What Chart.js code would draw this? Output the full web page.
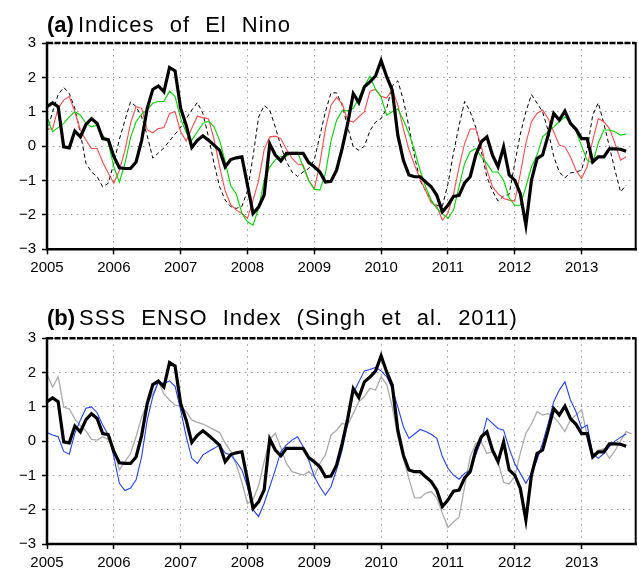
<!DOCTYPE html>
<html><head><meta charset="utf-8">
<script src="https://cdn.jsdelivr.net/npm/chart.js@4.4.1/dist/chart.umd.min.js"></script>
<style>
html,body{margin:0;padding:0;background:#fff;}
#wrap{position:relative;width:639px;height:571px;overflow:hidden;background:#fff;}
canvas{position:absolute;left:0;}
.ttl{position:absolute;left:47px;font-family:"Liberation Sans",Arial,sans-serif;font-size:22px;line-height:22px;letter-spacing:1px;word-spacing:8px;color:#000;white-space:nowrap;}
.ttl b{letter-spacing:0;}
.ttl span{margin-left:4px;}
</style></head>
<body><div id="wrap">
<canvas id="c1" width="639" height="290" style="top:0"></canvas>
<canvas id="c2" width="639" height="281" style="top:290px"></canvas>
<div class="ttl" style="top:14px"><b>(a)</b><span>Indices of El Nino</span></div>
<div class="ttl" style="top:307px"><b>(b)</b><span>SSS ENSO Index (Singh et al. 2011)</span></div>
</div>
<script>
// monthly values, Jan 2005 onward
const startYear = 2005;
const xTicks = [2005,2006,2007,2008,2009,2010,2011,2012,2013];
const yTicks = [-3,-2,-1,0,1,2,3];

const sssIndex = [1.15,1.26,1.15,-0.02,-0.05,0.44,0.27,0.63,0.8,0.66,0.22,0.19,
-0.3,-0.63,-0.65,-0.65,-0.46,0.17,1.1,1.65,1.75,1.58,2.29,2.19,
1.1,0.61,-0.04,0.17,0.3,0.17,0.03,-0.12,-0.6,-0.39,-0.34,-0.31,
-1.13,-1.96,-1.77,-1.42,0.06,-0.26,-0.43,-0.21,-0.21,-0.21,-0.21,-0.48,
-0.6,-0.75,-1.04,-1.02,-0.7,-0.07,0.66,1.53,1.27,1.73,1.87,2.04,
2.49,2.02,1.63,0.32,-0.41,-0.84,-0.89,-0.89,-1.04,-1.18,-1.43,-1.91,
-1.72,-1.46,-1.43,-1.07,-0.89,-0.26,0.13,0.27,-0.26,-0.6,-0.02,-0.84,
-0.99,-1.38,-2.3,-0.99,-0.36,-0.26,0.32,0.95,0.76,1.02,0.66,0.49,
0.22,0.22,-0.46,-0.31,-0.31,-0.08,-0.08,-0.09,-0.15];

const redIndex = [0.5,0.5,1.1,1.34,1.44,1.0,0.47,0.17,-0.07,-0.07,-0.46,-0.79,
-1.08,-0.7,-0.12,0.66,1.15,1.1,0.47,0.39,0.51,0.54,0.95,1.0,
0.42,0.15,0.52,0.87,0.83,0.8,0.2,-0.6,-1.3,-1.7,-1.86,-1.96,
-2.1,-1.57,-1.0,-0.1,0.27,0.29,0.22,-0.1,-0.35,-0.52,-0.55,-1.0,
-1.25,-0.5,0.5,1.19,1.42,1.24,0.75,0.7,0.85,1.0,1.6,1.65,
1.45,1.4,1.65,1.2,0.5,-0.1,-0.55,-0.95,-1.3,-1.65,-1.75,-2.15,
-1.95,-1.4,-0.6,0.08,0.5,0.5,0.0,-0.7,-1.18,-1.38,-1.52,-1.57,
-1.6,-0.8,0.08,0.71,0.95,1.05,0.8,0.42,0.03,-0.02,-0.31,-0.7,
-0.94,-0.6,0.17,0.8,0.71,0.51,0.08,-0.41,-0.31];

const greenIndex = [0.85,0.42,0.54,0.66,0.85,1.0,0.9,0.66,0.56,0.61,0.32,0.1,
-0.6,-1.05,-0.5,0.25,0.71,0.93,1.05,1.25,1.3,1.3,1.6,1.45,
0.8,0.4,0.17,0.42,0.66,0.73,0.56,0.17,-0.45,-1.15,-1.4,-1.95,
-2.2,-2.3,-1.8,-1.0,-0.6,-0.4,-0.3,-0.3,-0.18,-0.18,-0.6,-1.0,
-1.25,-1.28,-0.8,0.15,0.75,1.03,1.03,1.1,1.4,1.75,2.03,1.65,
1.43,0.9,1.0,1.09,0.76,0.37,-0.12,-0.7,-1.18,-1.57,-1.81,-1.96,
-2.1,-1.86,-1.18,-0.5,-0.16,-0.07,-0.31,-0.5,-0.75,-0.75,-1.0,-1.5,
-1.72,-1.72,-1.18,-0.6,-0.26,0.27,0.42,0.56,0.71,0.85,0.7,0.45,
0.0,-0.4,-0.5,0.1,0.47,0.47,0.42,0.32,0.35];

const dashedIndex = [0.4,1.0,1.5,1.71,1.53,1.1,0.37,-0.5,-0.75,-0.89,-1.18,-1.08,
-0.5,0.2,0.75,1.29,1.15,0.85,0.3,-0.35,-0.2,-0.05,0.15,0.35,
0.55,0.8,1.05,1.27,0.95,0.27,-0.5,-1.18,-1.57,-1.76,-1.81,-1.75,
-1.3,-0.3,0.85,1.18,1.05,0.55,0.0,-0.45,-0.75,-0.88,-0.75,-0.65,
-0.4,0.3,1.0,1.55,1.55,1.2,0.55,-0.02,-0.12,0.0,0.45,0.7,
0.8,1.1,1.75,1.9,1.34,0.56,-0.3,-1.0,-1.3,-1.6,-1.72,-1.75,
-1.1,-0.2,0.6,1.3,1.0,0.55,-0.15,-0.9,-1.3,-1.6,-1.45,-1.4,
-0.5,0.35,1.0,1.5,1.25,1.0,0.45,-0.3,-0.75,-0.92,-0.78,-0.75,
-0.7,-0.1,0.9,1.26,0.66,-0.02,-0.7,-1.33,-1.13];

const blueIndex = [0.25,0.18,0.13,-0.3,-0.38,0.23,0.62,0.96,1.0,0.83,0.47,0.18,
-0.45,-1.23,-1.44,-1.37,-1.13,-0.45,0.62,1.3,1.73,1.68,1.76,1.6,
0.91,0.13,-0.5,-0.65,-0.4,-0.3,-0.21,-0.11,-0.35,-0.4,-0.6,-0.84,
-1.33,-2.0,-2.2,-1.81,-1.33,-0.84,-0.3,-0.11,0.03,0.13,-0.16,-0.55,
-1.03,-1.33,-1.57,-1.33,-0.84,-0.26,0.52,1.39,1.73,2.05,2.09,2.15,
2.05,1.88,1.54,1.0,0.42,0.08,0.21,0.34,0.28,0.2,0.08,-0.45,
-0.79,-0.99,-1.11,-0.94,-0.84,-0.4,0.03,0.67,0.52,0.37,0.32,-0.21,
-0.65,-0.94,-1.23,-0.94,-0.55,-0.06,0.52,1.15,1.49,1.73,1.2,0.86,
0.37,0.47,-0.36,-0.5,-0.36,-0.16,0.0,0.11,0.21];

const grayIndex = [1.96,1.57,1.88,0.99,0.94,0.65,0.45,0.3,0.05,0.03,0.13,0.05,
-0.2,-0.84,-0.6,-0.36,0.13,0.7,1.09,1.38,1.75,1.38,1.2,1.05,
1.02,0.86,0.62,0.55,0.5,0.42,0.33,0.25,-0.06,-0.3,-0.69,-1.2,
-1.82,-1.7,-1.3,-0.6,0.05,0.23,-0.2,-0.65,-0.89,-0.94,-0.99,-0.89,
-1.03,-0.65,-0.4,0.18,0.32,0.52,0.47,0.81,1.15,1.3,1.54,1.49,
1.88,1.65,1.0,0.13,-0.5,-1.1,-1.65,-1.66,-1.52,-1.47,-1.66,-2.1,
-2.52,-2.36,-2.22,-1.32,-0.45,-0.06,-0.03,-0.36,-0.31,-0.6,-1.2,-1.25,
-1.03,-0.35,0.23,0.5,0.86,0.76,0.8,0.7,0.52,0.28,0.62,0.76,
0.92,0.18,-0.4,-0.26,-0.23,-0.5,-0.28,0.01,0.28,0.21];

const toXY = arr => arr.map((v,i)=>({x:startYear+i/12, y:v}));

const frame = {id:'frame', afterDatasetsDraw(c){
  const ctx=c.ctx, a=c.chartArea;
  ctx.save(); ctx.strokeStyle='#000'; ctx.lineCap='square';
  ctx.lineWidth=2.5; ctx.beginPath(); ctx.moveTo(a.left,a.top); ctx.lineTo(a.left,a.bottom); ctx.lineTo(a.right,a.bottom); ctx.stroke();
  ctx.lineWidth=2; ctx.beginPath(); ctx.moveTo(a.right,a.bottom); ctx.lineTo(a.right,a.top); ctx.stroke();
  ctx.lineCap='butt'; ctx.lineWidth=2.5; ctx.setLineDash([6,1.5]); ctx.beginPath(); ctx.moveTo(a.left,a.top); ctx.lineTo(a.right,a.top); ctx.stroke();
  ctx.restore();
}};

const font = {family:'"Liberation Sans", Arial, sans-serif', size:15};
function opts(padTop, xH){
  const grid = {color:'#9a9a9a', lineWidth:1, drawTicks:true, tickLength:5, tickColor:'#000', tickWidth:1.5, tickBorderDash:[]};
  return {
    responsive:false, animation:false, devicePixelRatio:1,
    layout:{padding:{left:0,right:3.3,top:padTop,bottom:0}},
    plugins:{legend:{display:false}, tooltip:{enabled:false}, title:{display:false}},
    elements:{point:{radius:0}, line:{tension:0}},
    scales:{
      x:{type:'linear', min:xTicks[0], max:2013.81,
        afterFit:s=>{s.height=xH;},
        afterBuildTicks:s=>{s.ticks = xTicks.map(v=>({value:v}));},
        ticks:{stepSize:1, autoSkip:false, maxRotation:0, padding:5, color:'#000', font, callback:v=>String(v)},
        grid, border:{display:false, dash:[1.5,4.5]}},
      y:{type:'linear', min:yTicks[0], max:yTicks[yTicks.length-1],
        afterFit:s=>{s.width=47;},
        afterBuildTicks:s=>{s.ticks = yTicks.map(v=>({value:v}));},
        ticks:{stepSize:1, padding:6, color:'#000', font, callback:v=>v<0?'\u2212'+Math.abs(v):String(v)},
        grid, border:{display:false, dash:[1.5,4.5]}}
    }
  };
}

new Chart(document.getElementById('c1'), {
  type:'line',
  data:{datasets:[
    {data:toXY(sssIndex), borderColor:'#000', borderWidth:3.2, order:0},
    {data:toXY(greenIndex), borderColor:'#00d400', borderWidth:1.1, order:1},
    {data:toXY(redIndex), borderColor:'#ff4a4a', borderWidth:1.1, order:2},
    {data:toXY(dashedIndex), borderColor:'#000', borderWidth:1, borderDash:[4,3], order:3}
  ]},
  options:opts(43, 40.7),
  plugins:[frame]
});

new Chart(document.getElementById('c2'), {
  type:'line',
  data:{datasets:[
    {data:toXY(sssIndex), borderColor:'#000', borderWidth:3.2, order:0},
    {data:toXY(blueIndex), borderColor:'#2040ff', borderWidth:1.1, order:1},
    {data:toXY(grayIndex), borderColor:'#aaaaaa', borderWidth:1.3, order:2}
  ]},
  options:opts(48.3, 27),
  plugins:[frame]
});
</script>
</body></html>
